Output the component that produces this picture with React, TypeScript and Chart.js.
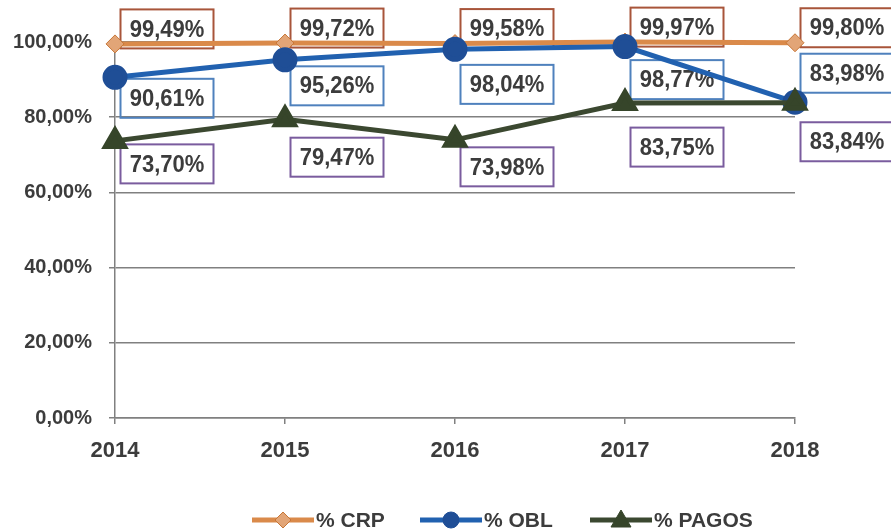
import React, { useEffect, useRef } from "react";
import { Chart, registerables } from "chart.js";

Chart.register(...registerables);

const YEARS = ["2014", "2015", "2016", "2017", "2018"];
const CRP = [99.49, 99.72, 99.58, 99.97, 99.8];
const OBL = [90.61, 95.26, 98.04, 98.77, 83.98];
const PAGOS = [73.7, 79.47, 73.98, 83.75, 83.84];
const Y_TICKS = [0, 20, 40, 60, 80, 100];
const SERIES_NAMES = ["% CRP", "% OBL", "% PAGOS"];

// label placement (pixel offsets from each point, styling only)
const LABEL_DY = [
  [-15, -15, -15, -15, -15],
  [21, 26, 35, 33, -29],
  [23, 38, 27, 44, 39],
];
const LABEL_DX = 52;

const COLORS = {
  crpLine: "#DA8A4A",
  crpPoint: "#E2A577",
  crpPointBorder: "#C77637",
  crpBox: "#A8553A",
  oblLine: "#2161B0",
  oblPoint: "#1F4E96",
  oblBox: "#4F81BD",
  pagLine: "#3B4830",
  pagPoint: "#36452A",
  pagBox: "#7A5C9E",
  text: "#3C3C3C",
  grid: "#808080",
};

const FONT = "'Liberation Sans', Arial, sans-serif";

const fmt = (v: number) => v.toFixed(2).replace(".", ",") + "%";

const labelPlugin = {
  id: "boxLabels",
  beforeDatasetsDraw(chart: any) {
    const ctx = chart.ctx;
    const boxes = [COLORS.crpBox, COLORS.oblBox, COLORS.pagBox];
    chart.data.datasets.forEach((ds: any, di: number) => {
      const meta = chart.getDatasetMeta(di);
      meta.data.forEach((pt: any, i: number) => {
        const cx = pt.x + LABEL_DX;
        const cy = pt.y + LABEL_DY[di][i];
        const w = 93;
        const h = 39;
        ctx.save();
        ctx.lineWidth = 2;
        ctx.strokeStyle = boxes[di];
        ctx.strokeRect(cx - w / 2, cy - h / 2, w, h);
        ctx.translate(cx, cy + 1);
        ctx.scale(1, 1.1);
        ctx.font = `bold 22px ${FONT}`;
        ctx.textAlign = "center";
        ctx.textBaseline = "middle";
        ctx.fillStyle = COLORS.text;
        ctx.fillText(fmt(ds.data[i]), 0, 0);
        ctx.restore();
      });
    });
  },
};

const legendPlugin = {
  id: "customLegend",
  afterDraw(chart: any) {
    const ctx = chart.ctx;
    const y = 520;
    const items = [
      { x: 252, line: COLORS.crpLine, fill: COLORS.crpPoint, border: COLORS.crpPointBorder, shape: "diamond" },
      { x: 420, line: COLORS.oblLine, fill: COLORS.oblPoint, border: COLORS.oblPoint, shape: "circle" },
      { x: 590, line: COLORS.pagLine, fill: COLORS.pagPoint, border: COLORS.pagPoint, shape: "triangle" },
    ];
    ctx.save();
    items.forEach((it, k) => {
      const len = 62;
      ctx.strokeStyle = it.line;
      ctx.lineWidth = 5;
      ctx.beginPath();
      ctx.moveTo(it.x, y);
      ctx.lineTo(it.x + len, y);
      ctx.stroke();
      const mx = it.x + len / 2;
      ctx.fillStyle = it.fill;
      ctx.strokeStyle = it.border;
      ctx.lineWidth = 1;
      ctx.beginPath();
      if (it.shape === "diamond") {
        ctx.moveTo(mx, y - 8);
        ctx.lineTo(mx + 8, y);
        ctx.lineTo(mx, y + 8);
        ctx.lineTo(mx - 8, y);
        ctx.closePath();
      } else if (it.shape === "circle") {
        ctx.arc(mx, y, 8, 0, Math.PI * 2);
      } else {
        ctx.moveTo(mx, y - 10);
        ctx.lineTo(mx + 10, y + 7);
        ctx.lineTo(mx - 10, y + 7);
        ctx.closePath();
      }
      ctx.fill();
      ctx.stroke();
      ctx.fillStyle = COLORS.text;
      ctx.font = `bold 21px ${FONT}`;
      ctx.textAlign = "left";
      ctx.textBaseline = "middle";
      ctx.fillText(SERIES_NAMES[k], it.x + len + 2, y + 1);
    });
    ctx.restore();
  },
};

export default function App() {
  const ref = useRef<HTMLCanvasElement>(null);

  useEffect(() => {
    document.body.style.margin = "0";
    const canvas = ref.current;
    if (!canvas) return;
    const chart = new Chart(canvas, {
      type: "line",
      data: {
        labels: YEARS,
        datasets: [
          {
            label: SERIES_NAMES[0],
            data: CRP,
            borderColor: COLORS.crpLine,
            borderWidth: 5,
            pointStyle: "rectRot",
            pointRadius: 9,
            pointBackgroundColor: COLORS.crpPoint,
            pointBorderColor: COLORS.crpPointBorder,
            pointBorderWidth: 1,
            clip: false as any,
            order: 3,
          },
          {
            label: SERIES_NAMES[1],
            data: OBL,
            borderColor: COLORS.oblLine,
            borderWidth: 5,
            pointStyle: "circle",
            pointRadius: 10,
            pointBackgroundColor: COLORS.oblPoint,
            pointBorderColor: COLORS.oblPoint,
            clip: false as any,
            order: 2,
          },
          {
            label: SERIES_NAMES[2],
            data: PAGOS,
            borderColor: COLORS.pagLine,
            borderWidth: 5,
            pointStyle: "triangle",
            pointRadius: 11,
            pointBackgroundColor: COLORS.pagPoint,
            pointBorderColor: COLORS.pagPoint,
            clip: false as any,
            order: 1,
          },
        ],
      },
      options: {
        responsive: false,
        animation: false,
        layout: { padding: { top: 42, left: 0, right: 96, bottom: 53 } },
        plugins: {
          legend: { display: false },
          tooltip: { enabled: false },
        },
        scales: {
          x: {
            offset: false,
            grid: {
              drawOnChartArea: false,
              drawTicks: true,
              tickLength: 6,
              color: COLORS.grid,
              lineWidth: 1.5,
            },
            border: { display: true, color: COLORS.grid, width: 1.5 },
            ticks: {
              color: COLORS.text,
              font: { family: FONT, size: 22, weight: "bold" },
              padding: 14,
              maxRotation: 0,
            },
            afterFit(scale: any) {
              scale.height = 60;
            },
          },
          y: {
            min: 0,
            max: 100,
            afterBuildTicks(scale: any) {
              scale.ticks = Y_TICKS.map((v) => ({ value: v }));
            },
            grid: {
              color: COLORS.grid,
              lineWidth: 1.5,
              drawTicks: true,
              tickLength: 6,
            },
            border: { display: true, color: COLORS.grid, width: 1.5 },
            ticks: {
              color: COLORS.text,
              font: { family: FONT, size: 20, weight: "bold" },
              padding: 17,
              callback: (v: any) => fmt(Number(v)),
            },
            afterFit(scale: any) {
              scale.width = 115;
            },
          },
        },
      },
      plugins: [labelPlugin, legendPlugin],
    });
    return () => chart.destroy();
  }, []);

  return (
    <div style={{ width: 891, height: 531 }}>
      <canvas ref={ref} width={891} height={531} style={{ display: "block" }} />
    </div>
  );
}
